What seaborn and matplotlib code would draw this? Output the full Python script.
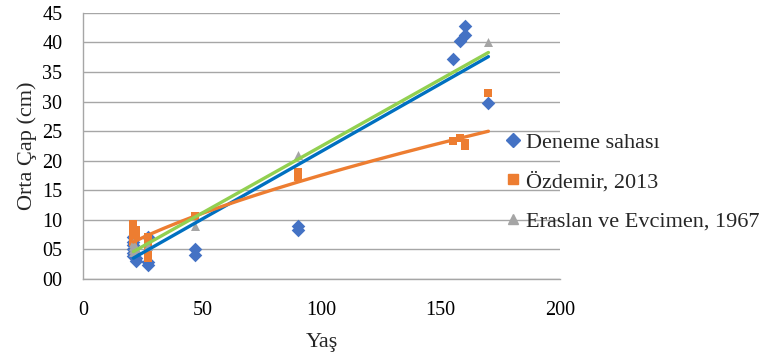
import numpy as np
import pandas as pd
import matplotlib
matplotlib.use("Agg")
import matplotlib.pyplot as plt
import seaborn as sns
from matplotlib.ticker import FuncFormatter, MultipleLocator

sns.set_theme(style="white")
plt.rcParams['font.family'] = ['Liberation Serif', 'DejaVu Serif']

# --- data ---
deneme_x = [21, 21, 21, 21, 21, 21, 22, 22, 27, 27, 27, 47, 47, 90, 90, 155, 158, 160, 160, 170]
deneme_y = [7.0, 6.3, 5.8, 5.0, 4.3, 3.8, 3.5, 3.0, 7.0, 2.8, 2.4, 4.0, 5.0, 8.3, 9.0, 37.2, 40.3, 41.3, 42.7, 29.7]

ozdemir_x = [21, 21, 21, 21, 21, 21, 22, 22, 27, 27, 27, 27, 27, 47, 90, 90, 155, 158, 160, 160, 170]
ozdemir_y = [9.3, 8.7, 8.1, 7.5, 6.9, 6.2, 8.3, 7.2, 7.0, 6.0, 5.0, 4.2, 3.6, 10.6, 17.3, 18.0, 23.3, 23.8, 22.5, 23.0, 31.4]

eraslan_x = [21, 21, 21, 21, 22, 27, 47, 90, 170]
eraslan_y = [6.0, 5.5, 5.0, 4.5, 5.2, 5.5, 9.0, 21.0, 40.1]

# linear trendlines (ends at first and last age)
trend_x = [21, 170]
trend_deneme = [3.5, 37.6]
trend_eraslan = [4.6, 38.3]

labels = ["Deneme sahası", "Özdemir, 2013", "Eraslan ve Evcimen, 1967"]
marker_colors = ["#4472C4", "#ED7D31", "#A5A5A5"]
line_colors = ["#0070C0", "#ED7D31", "#92D050"]
markers = ["D", "s", "^"]
sizes = [48, 40, 42]

df = pd.concat([
    pd.DataFrame({"Yaş": deneme_x, "Çap": deneme_y, "Seri": labels[0]}),
    pd.DataFrame({"Yaş": ozdemir_x, "Çap": ozdemir_y, "Seri": labels[1]}),
    pd.DataFrame({"Yaş": eraslan_x, "Çap": eraslan_y, "Seri": labels[2]}),
], ignore_index=True)

fig = plt.figure(figsize=(7.67, 3.58), dpi=100)
ax = fig.add_axes([0.1086, 0.2212, 0.730 - 0.1086, 0.964 - 0.2212])

for i, lab in enumerate(labels):
    sub = df[df["Seri"] == lab]
    sns.scatterplot(data=sub, x="Yaş", y="Çap", ax=ax, marker=markers[i],
                    color=marker_colors[i], s=sizes[i], linewidth=0,
                    zorder=3 + i, legend=False)

# Deneme trendline (linear)
sns.lineplot(x=trend_x, y=trend_deneme, ax=ax, color=line_colors[0], linewidth=2.4,
             zorder=7, legend=False, estimator=None, sort=False)
# Özdemir trendline (power fit of its points)
ox = np.asarray(ozdemir_x, float); oy = np.asarray(ozdemir_y, float)
b, la = np.polyfit(np.log(ox), np.log(oy), 1)
xx = np.linspace(ox.min(), ox.max(), 200)
sns.lineplot(x=xx, y=np.exp(la) * xx ** b, ax=ax, color=line_colors[1], linewidth=2.4,
             zorder=8, legend=False, estimator=None, sort=False)
# Eraslan trendline (linear)
sns.lineplot(x=trend_x, y=trend_eraslan, ax=ax, color=line_colors[2], linewidth=2.4,
             zorder=9, legend=False, estimator=None, sort=False)

ax.set_xlim(0, 200)
ax.set_ylim(0, 45)
ax.xaxis.set_major_locator(MultipleLocator(50))
ax.yaxis.set_major_locator(MultipleLocator(5))
ax.yaxis.set_major_formatter(FuncFormatter(lambda v, p: f"{int(round(v)):02d}"))
ax.grid(axis="y", color="#A6A6A6", linewidth=1.0)
ax.grid(axis="x", visible=False)
for s in ["top", "right"]:
    ax.spines[s].set_visible(False)
for s in ["left", "bottom"]:
    ax.spines[s].set_color("#A6A6A6")
    ax.spines[s].set_linewidth(1.0)
ax.tick_params(axis="x", labelsize=14.5, length=0, pad=16, colors="black")
ax.tick_params(axis="y", labelsize=14.5, length=0, pad=15, colors="black")
ax.set_xlabel("Yaş", fontsize=16, labelpad=9)
ax.set_ylabel("Orta Çap (cm)", fontsize=16, labelpad=4)

handles = [plt.Line2D([], [], linestyle="none", marker=markers[i], color=marker_colors[i],
                      markersize=[7, 6.5, 7][i]) for i in range(3)]
fig.legend(handles, labels, loc="center left", bbox_to_anchor=(0.657, 0.492),
           frameon=False, fontsize=16, handlelength=0.8, handletextpad=0.2,
           labelspacing=0.85, borderaxespad=0, borderpad=0)

fig.savefig("out.png", dpi=100)
